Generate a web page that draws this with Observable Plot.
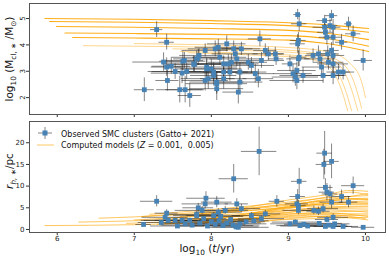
<!DOCTYPE html>
<html><head><meta charset="utf-8">
<script src="https://cdn.jsdelivr.net/npm/d3@7"></script>
<script src="https://cdn.jsdelivr.net/npm/@observablehq/plot@0.6"></script>
<style>
body{margin:0;background:#fff;font-family:"DejaVu Sans",sans-serif;}
#chart{width:389px;height:258px;position:relative;background:#fff;}
#chart svg{display:block;}
</style></head><body><div id="chart"></div>
<script>
// ---- tick values ----
const xTicks = [6, 7, 8, 9, 10];
const massTicks = [2, 3, 4, 5];
const rhTicks = [0, 5, 10, 15, 20];

// ---- observed clusters: top panel (log age, log mass) ----
const massAge    = [7.29,7.42,7.38,7.42,7.48,7.43,7.13,7.53,7.63,7.65,7.62,7.68,7.59,7.66,7.72,7.78,7.81,7.84,7.92,8.05,7.94,8.03,8.07,7.77,7.83,7.94,7.92,7.96,8.00,8.03,8.07,8.07,8.09,8.11,8.16,8.16,8.16,8.20,8.22,8.24,8.26,8.29,8.31,8.33,8.35,8.37,8.37,8.39,8.48,8.52,8.57,8.61,8.63,8.65,8.70,8.74,8.83,8.84,9.02,9.06,9.09,9.11,9.11,9.12,9.14,9.13,9.12,9.14,9.13,9.19,9.32,9.39,9.41,9.43,9.45,9.47,9.47,9.48,9.50,9.51,9.52,9.54,9.56,9.58,9.58,9.56,9.58,9.58,9.58,9.65,9.69,9.71,9.78,9.84,9.97];
const massAgeErr = [0.08,0.10,0.40,0.20,0.25,0.15,0.13,0.35,0.30,0.25,0.40,0.45,0.30,0.25,0.15,0.35,0.30,0.25,0.30,0.35,0.40,0.30,0.35,0.40,0.35,0.40,0.30,0.35,0.40,0.45,0.40,0.35,0.30,0.35,0.40,0.45,0.30,0.25,0.40,0.35,0.30,0.25,0.30,0.35,0.20,0.35,0.30,0.25,0.25,0.30,0.25,0.20,0.15,0.30,0.15,0.20,0.12,0.10,0.10,0.25,0.30,0.35,0.25,0.05,0.10,0.10,0.10,0.10,0.15,0.30,0.10,0.15,0.20,0.25,0.30,0.10,0.15,0.10,0.10,0.15,0.20,0.10,0.08,0.10,0.12,0.10,0.15,0.20,0.15,0.15,0.08,0.15,0.05,0.10,0.12];
const logMass    = [4.58,4.10,3.35,3.16,3.19,2.65,2.30,2.99,3.38,3.41,2.93,2.99,2.30,2.30,2.08,3.26,3.47,3.60,3.79,3.85,3.09,2.84,2.59,3.28,3.53,3.16,2.65,2.72,3.09,2.97,2.53,2.34,3.91,3.53,3.28,2.97,2.72,4.04,3.28,2.97,3.34,3.85,3.66,3.47,2.21,2.97,2.59,3.85,3.34,3.22,2.91,2.72,4.23,3.41,3.79,3.66,3.66,3.47,3.28,2.91,2.78,2.65,3.03,5.15,4.80,4.17,4.04,3.53,3.47,2.84,3.60,3.66,3.47,3.16,2.84,4.92,4.67,4.48,4.29,3.66,3.34,4.73,5.11,4.67,4.29,3.79,3.60,3.28,2.84,2.97,4.10,2.97,4.80,4.42,3.41];
const logMassErr = [0.30,0.30,0.35,0.35,0.30,0.40,0.45,0.30,0.35,0.30,0.40,0.30,0.50,0.50,0.45,0.30,0.30,0.25,0.25,0.30,0.35,0.40,0.40,0.30,0.30,0.35,0.40,0.40,0.35,0.35,0.40,0.45,0.30,0.30,0.30,0.35,0.40,0.30,0.35,0.35,0.30,0.30,0.30,0.30,0.45,0.35,0.40,0.25,0.30,0.30,0.35,0.35,0.30,0.30,0.25,0.25,0.25,0.25,0.30,0.35,0.35,0.35,0.30,0.20,0.30,0.30,0.35,0.35,0.30,0.30,0.25,0.30,0.30,0.30,0.30,0.20,0.30,0.30,0.30,0.30,0.30,0.25,0.20,0.30,0.30,0.30,0.30,0.30,0.35,0.30,0.30,0.30,0.25,0.30,0.40];

// ---- observed clusters: bottom panel (log age, half-light radius in pc) ----
const rhAge    = [7.29,7.12,7.42,7.40,7.44,7.53,7.66,7.62,7.72,7.81,7.83,7.81,7.92,7.93,7.88,8.07,8.03,8.09,8.18,8.29,8.33,8.39,8.37,8.52,8.62,8.65,8.70,8.85,9.02,9.11,9.12,9.14,9.13,9.09,9.33,9.39,9.45,9.47,9.46,9.56,9.48,9.50,9.54,9.56,9.58,9.69,9.78,9.84,9.97,9.71,9.58,9.48,7.75,7.85,7.95,8.00,8.05,8.10,8.15,8.20,8.25,8.28,8.32,8.35,8.45,8.55,9.15,9.20,9.25,9.40,9.52,9.60,7.56,7.90,8.12,7.35,9.13,9.50];
const rhAgeErr = [0.21,0.10,0.15,0.30,0.35,0.40,0.30,0.35,0.40,0.35,0.20,0.30,0.30,0.25,0.35,0.20,0.35,0.30,0.30,0.19,0.15,0.25,0.35,0.25,0.23,0.30,0.20,0.10,0.25,0.15,0.10,0.10,0.20,0.30,0.15,0.15,0.20,0.10,0.10,0.10,0.10,0.10,0.10,0.15,0.20,0.12,0.12,0.15,0.15,0.20,0.25,0.30,0.40,0.45,0.40,0.45,0.40,0.35,0.40,0.45,0.40,0.35,0.30,0.40,0.25,0.20,0.30,0.25,0.35,0.30,0.25,0.20,0.35,0.30,0.30,0.30,0.10,0.15];
const rh       = [6.5,1.15,3.76,2.8,2.1,2.1,1.3,2.1,2.1,3.45,5.0,3.2,5.9,7.2,4.4,6.3,3.2,4.0,4.4,11.7,5.9,4.8,1.3,3.2,18.0,2.5,3.6,6.5,1.3,5.9,7.6,11.1,4.4,1.7,4.4,4.2,4.8,17.6,15.0,15.7,9.7,8.6,8.2,6.3,2.8,7.6,6.3,10.1,0.5,0.7,0.7,0.7,1.0,1.5,0.8,1.8,1.2,2.0,0.9,1.5,2.3,1.0,0.6,0.5,1.8,2.0,0.9,1.2,0.8,1.4,1.0,1.3,0.8,2.5,3.0,1.6,5.5,2.3];
const rhErr    = [1.3,0.4,0.8,0.6,0.5,0.5,0.4,0.5,0.5,0.8,1.0,0.7,1.2,1.5,0.9,1.3,0.7,0.8,0.9,3.3,1.2,1.0,0.4,0.7,5.6,0.6,0.8,1.3,0.4,1.3,1.6,3.0,1.0,0.5,1.0,1.0,1.0,5.0,3.5,4.0,2.0,2.0,2.0,1.5,0.8,1.5,1.3,2.0,0.3,0.3,0.3,0.3,0.3,0.4,0.3,0.4,0.3,0.5,0.3,0.4,0.5,0.3,0.3,0.3,0.4,0.5,0.3,0.4,0.3,0.4,0.3,0.4,0.3,0.5,0.6,0.4,1.2,0.6];

// ---- computed model tracks (log age, value) ----
const massTracksSurviving = [
  [[5.84,5.00],[7,4.97],[8,4.92],[9,4.84],[9.5,4.76],[10.04,4.62]],
  [[5.90,4.89],[7,4.86],[8,4.81],[9,4.73],[9.5,4.64],[10.04,4.48]],
  [[5.99,4.70],[7,4.67],[8,4.62],[9,4.55],[9.5,4.44],[10.04,4.20]],
  [[6.10,4.45],[7,4.43],[8,4.40],[9,4.35],[9.5,4.24],[10.04,3.95]],
  [[6.20,4.28],[7,4.26],[8,4.23],[9,4.18],[9.5,4.05],[10.04,3.75]]
];
const massTracksDissolving = [
  [[6.34,3.97],[7,3.95],[8,3.91],[9,3.80],[9.4,3.65],[9.7,3.30],[9.85,2.60],[9.95,1.60]],
  [[7.00,4.05],[8,4.00],[9,3.90],[9.5,3.75],[9.8,3.30],[9.95,2.60],[10.0,2.00]],
  [[7.50,3.85],[8.5,3.78],[9.2,3.68],[9.5,3.50],[9.7,3.10],[9.82,2.30],[9.90,1.50]],
  [[7.60,3.75],[8.5,3.68],[9.2,3.57],[9.5,3.35],[9.65,2.90],[9.75,2.20],[9.82,1.50]],
  [[7.70,3.70],[8.5,3.62],[9.2,3.50],[9.45,3.30],[9.6,2.90],[9.7,2.20],[9.77,1.50]]
];
const rhTracks = [
  [[5.84,0.9],[7,1.1],[8,1.6],[9,2.3],[9.5,2.6],[10.03,2.8]],
  [[6.28,1.7],[7,2.0],[8,2.7],[9,3.6],[9.5,4.0],[10.03,4.3]],
  [[6.54,2.6],[7,2.9],[8,3.8],[9,5.0],[9.5,5.6],[10.03,6.0]],
  [[6.9,1.4],[8,2.2],[9,3.2],[9.5,3.6],[10.03,3.6]],
  [[7.0,2.2],[8,3.2],[9,4.4],[9.5,5.0],[10.03,5.2]],
  [[7.1,3.0],[8,4.2],[9,5.8],[9.5,6.6],[10.03,7.0]],
  [[7.2,3.5],[8,4.6],[9,6.3],[9.5,7.3],[10.03,7.8]],
  [[7.3,1.2],[8,1.9],[9,2.8],[9.5,3.0],[10.03,2.2]],
  [[7.4,2.5],[8,3.5],[9,5.2],[9.5,6.0],[10.03,6.6]],
  [[7.5,1.8],[8,2.6],[9,4.0],[9.5,4.5],[10.03,4.0]],
  [[7.6,3.0],[8,3.9],[9,5.6],[9.5,6.8],[9.8,7.6],[10.03,8.3]],
  [[7.7,2.0],[8.5,3.3],[9,4.4],[9.5,5.2],[10.03,5.4]],
  [[7.8,3.2],[8.5,4.8],[9,6.0],[9.5,7.5],[9.8,8.6],[10.03,8.0]],
  [[7.9,1.5],[8.5,2.6],[9,3.5],[9.5,3.8],[10.03,3.0]],
  [[8.0,2.5],[8.5,3.7],[9,5.0],[9.5,6.0],[10.03,6.3]],
  [[8.1,4.0],[8.5,5.2],[9,6.8],[9.5,8.0],[9.8,9.0],[10.03,8.8]],
  [[8.2,1.8],[9,3.0],[9.5,3.4],[10.0,2.5]],
  [[8.3,3.0],[9,5.4],[9.5,6.9],[10.03,7.2]],
  [[8.4,2.2],[9,3.9],[9.5,4.8],[10.03,4.7]],
  [[8.5,3.5],[9,4.8],[9.5,5.9],[10.03,5.8]],
  [[8.6,1.6],[9,2.5],[9.5,3.1],[10.03,3.3]],
  [[8.7,4.2],[9,5.2],[9.5,6.4],[9.8,7.1],[10.03,6.9]]
];

// ---- build tables ----
const rowsOf = tracks => tracks.flatMap((tr, i) => tr.map(([t, v]) => ({id: i, t, v})));
const massObs = massAge.map((t, i) => ({t, te: massAgeErr[i], v: logMass[i], ve: logMassErr[i]}));
const rhObs = rhAge.map((t, i) => ({t, te: rhAgeErr[i], v: rh[i], ve: rhErr[i]}));

const W = 389;
const xDomain = [5.64, 10.26];
const ORANGE = "#ffa500";
const BLUE = "#4682b4";
const style = {fontFamily: "DejaVu Sans", fontSize: "7px", color: "#222", background: "white", overflow: "visible"};

function errMarks(obs) {
  return [
    Plot.ruleY(obs, {y: "v", x1: d => d.t - d.te, x2: d => d.t + d.te, stroke: "#222", strokeOpacity: 0.55, strokeWidth: 1}),
    Plot.ruleX(obs, {x: "t", y1: d => d.v - d.ve, y2: d => d.v + d.ve, stroke: "#222", strokeOpacity: 0.55, strokeWidth: 1}),
    Plot.dot(obs, {x: "t", y: "v", symbol: "square", r: 2.7, fill: BLUE, stroke: "none"})
  ];
}

const topPlot = Plot.plot({
  width: W, height: 119, marginTop: 3, marginBottom: 5, marginLeft: 29, marginRight: 4,
  style,
  x: {domain: xDomain, label: null},
  y: {domain: [1.36, 5.57], label: null},
  marks: [
    Plot.line(rowsOf(massTracksDissolving), {x: "t", y: "v", z: "id", curve: "monotone-x", stroke: ORANGE, strokeOpacity: 0.45, strokeWidth: 1, clip: true}),
    Plot.line(rowsOf(massTracksSurviving), {x: "t", y: "v", z: "id", curve: "monotone-x", stroke: ORANGE, strokeOpacity: 0.9, strokeWidth: 1.1, clip: true}),
    ...errMarks(massObs),
    Plot.axisX(xTicks, {tickSize: 3, tickFormat: () => "", stroke: "#333"}),
    Plot.axisY(massTicks, {tickSize: 3, tickPadding: 2, tickRotate: -90, stroke: "#333"}),
    Plot.frame({stroke: "#555", strokeWidth: 1})
  ]
});

const botPlot = Plot.plot({
  width: W, height: 139, marginTop: 2, marginBottom: 26, marginLeft: 29, marginRight: 4,
  style,
  x: {domain: xDomain, label: null},
  y: {domain: [-0.7, 24.9], label: null},
  marks: [
    Plot.line(rowsOf(rhTracks), {x: "t", y: "v", z: "id", curve: "monotone-x", stroke: ORANGE, strokeOpacity: 0.62, strokeWidth: 1, clip: true}),
    ...errMarks(rhObs),
    Plot.axisX(xTicks, {tickSize: 3, tickPadding: 1, stroke: "#333"}),
    Plot.axisY(rhTicks, {tickSize: 3, tickPadding: 2, stroke: "#333"}),
    Plot.frame({stroke: "#555", strokeWidth: 1})
  ]
});

const chart = document.getElementById("chart");
chart.append(topPlot, botPlot);

// ---- axis titles & legend as real text (subscripts via dy) ----
function richText(svg, x, y, parts, opts = {}) {
  const size = opts.size || 10.5;
  const t = d3.select(svg).append("text")
    .attr("x", x).attr("y", y)
    .attr("text-anchor", opts.anchor || "start")
    .attr("font-family", "DejaVu Sans").attr("font-size", size)
    .attr("fill", "#111");
  if (opts.rotate) t.attr("transform", `rotate(${opts.rotate},${x},${y})`);
  let shift = 0;
  for (const p of parts) {
    const s = t.append("tspan").text(p.s);
    const want = p.sub ? size * 0.28 : 0;
    if (want !== shift) { s.attr("dy", want - shift); shift = want; }
    if (p.sub) s.attr("font-size", size * 0.7);
    if (p.it) s.attr("font-style", "italic");
  }
  return t;
}

richText(topPlot, 13, 59, [
  {s: "log"}, {s: "10", sub: true}, {s: " (M"}, {s: "cl, \u2217", sub: true}, {s: " /M"}, {s: "\u2299", sub: true}, {s: ")"}
], {anchor: "middle", rotate: -90, size: 10.5});

richText(botPlot, 13, 171 - 119, [
  {s: "r", it: true}, {s: "h, \u2217", sub: true, it: true}, {s: "/pc"}
], {anchor: "middle", rotate: -90, size: 10.5});

richText(botPlot, 207, 252 - 119, [
  {s: "log"}, {s: "10", sub: true}, {s: " ("}, {s: "t", it: true}, {s: "/yr)"}
], {anchor: "middle", size: 10.5});

// legend
const lg = d3.select(botPlot);
lg.append("line").attr("x1", 38).attr("x2", 52).attr("y1", 14).attr("y2", 14).attr("stroke", "#222").attr("stroke-opacity", 0.55);
lg.append("line").attr("x1", 45).attr("x2", 45).attr("y1", 8).attr("y2", 20).attr("stroke", "#222").attr("stroke-opacity", 0.55);
lg.append("rect").attr("x", 42.5).attr("y", 11.5).attr("width", 5).attr("height", 5).attr("fill", BLUE);
richText(botPlot, 61, 136.5 - 119, [{s: "Observed SMC clusters (Gatto+ 2021)"}], {size: 8});
lg.append("line").attr("x1", 37).attr("x2", 54).attr("y1", 26).attr("y2", 26).attr("stroke", ORANGE).attr("stroke-opacity", 0.6);
richText(botPlot, 61, 148 - 119, [
  {s: "Computed models ("}, {s: "Z", it: true}, {s: " = 0.001,  0.005)"}
], {size: 8});
</script></body></html>
